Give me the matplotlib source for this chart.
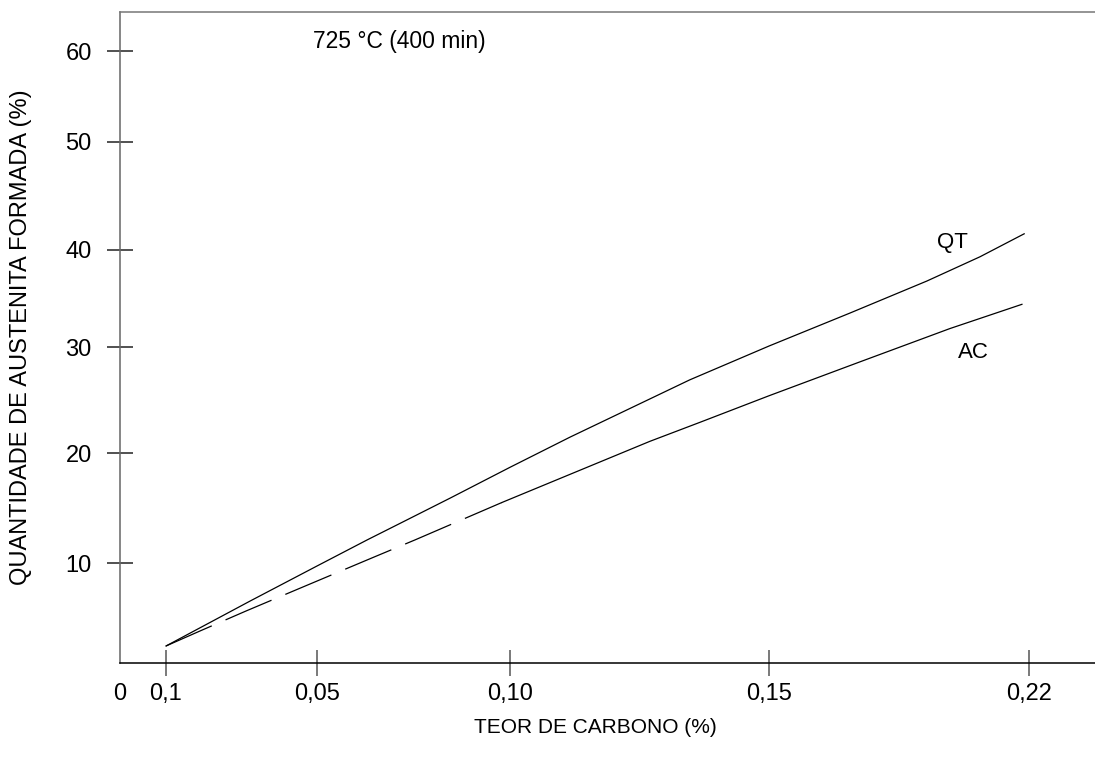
import numpy as np
import matplotlib
matplotlib.use('Agg')
import matplotlib.pyplot as plt

plt.rcParams['font.family'] = ['Liberation Sans', 'DejaVu Sans']

# carbon content (%) and austenite formed (%) for the two starting structures
qt_carbon = [0.0100, 0.0323, 0.0500, 0.0630, 0.0715, 0.0845, 0.1000, 0.1116,
             0.1270, 0.1347, 0.1500, 0.1718, 0.1925, 0.2068, 0.2187]
qt_austenite = [1.7, 6.2, 9.7, 12.1, 13.6, 15.9, 18.7, 21.5, 25.1, 26.9,
                30.1, 33.5, 36.8, 39.3, 41.5]

ac_carbon = [0.0100, 0.0190, 0.0312, 0.0450, 0.0645, 0.0754, 0.0979, 0.1270,
             0.1367, 0.1500, 0.1745, 0.1987, 0.2181]
ac_austenite = [1.7, 3.2, 5.2, 7.4, 10.5, 12.1, 15.5, 21.1, 22.9, 25.4,
                28.6, 31.9, 34.4]
ac_dash_until = 7  # AC is dashed over its first points, solid afterwards

x_ticks = [0, 0.01, 0.05, 0.10, 0.15, 0.22]
x_ticklabels = ['0', '0,1', '0,05', '0,10', '0,15', '0,22']
y_ticks = [10, 20, 30, 40, 50, 60]

# the hand-drawn axes are not evenly spaced: piecewise-linear scales
x_knot_val = [0, 0.01, 0.05, 0.10, 0.15, 0.22, 0.29]
x_knot_pos = [0, 46, 197, 390, 649, 909, 1169]
y_knot_val = [0, 10, 20, 30, 40, 50, 60, 70]
y_knot_pos = [0, 100, 210, 316, 413, 521, 612, 703]


def x_fwd(v):
    return np.interp(v, x_knot_val, x_knot_pos)


def x_inv(p):
    return np.interp(p, x_knot_pos, x_knot_val)


def y_fwd(v):
    return np.interp(v, y_knot_val, y_knot_pos)


def y_inv(p):
    return np.interp(p, y_knot_pos, y_knot_val)


fig = plt.figure(figsize=(10.95, 7.64), dpi=100)
ax = fig.add_axes([120 / 1095, 1 - 663 / 764, 975 / 1095, 651 / 764])
ax.set_xscale('function', functions=(x_fwd, x_inv))
ax.set_yscale('function', functions=(y_fwd, y_inv))
ax.set_xlim(0, x_inv(975))
ax.set_ylim(0, y_inv(651))

lw = 0.9
ax.plot(qt_carbon, qt_austenite, color='black', lw=lw)
ax.plot(ac_carbon[:ac_dash_until], ac_austenite[:ac_dash_until], color='black',
        lw=lw, linestyle=(0, (40, 12)))
ax.plot(ac_carbon[ac_dash_until - 1:], ac_austenite[ac_dash_until - 1:],
        color='black', lw=lw)

ax.text(0.1993, 40.7, 'QT', fontsize=16, ha='center', va='center')
ax.text(0.2049, 29.5, 'AC', fontsize=16, ha='center', va='center')
ax.text(0.0489, 61.0, '725 °C (400 min)', fontsize=16.5, ha='left', va='center')

ax.spines['right'].set_visible(False)
ax.spines['left'].set_color('#666666')
ax.spines['top'].set_color('#777777')
ax.spines['bottom'].set_color('black')
for s in ('left', 'top', 'bottom'):
    ax.spines[s].set_linewidth(1.1)

ax.set_xticks(x_ticks)
ax.set_xticklabels(x_ticklabels)
ax.set_yticks(y_ticks)
ax.set_yticklabels([str(t) for t in y_ticks])
ax.xaxis.set_minor_locator(matplotlib.ticker.NullLocator())
ax.yaxis.set_minor_locator(matplotlib.ticker.NullLocator())
ax.tick_params(axis='x', direction='inout', length=18.7, width=1.1,
               color='#555555', labelsize=17, pad=5)
ax.tick_params(axis='y', direction='inout', length=18.7, width=1.1,
               color='#222222', labelsize=17, pad=11)
ax.xaxis.get_major_ticks()[0].tick1line.set_visible(False)

ax.set_xlabel('TEOR DE CARBONO (%)', fontsize=15)
ax.xaxis.set_label_coords(0.488, -0.085)
ax.set_ylabel('QUANTIDADE DE AUSTENITA FORMADA (%)', fontsize=17, labelpad=24)

fig.savefig('out.png', dpi=100)
